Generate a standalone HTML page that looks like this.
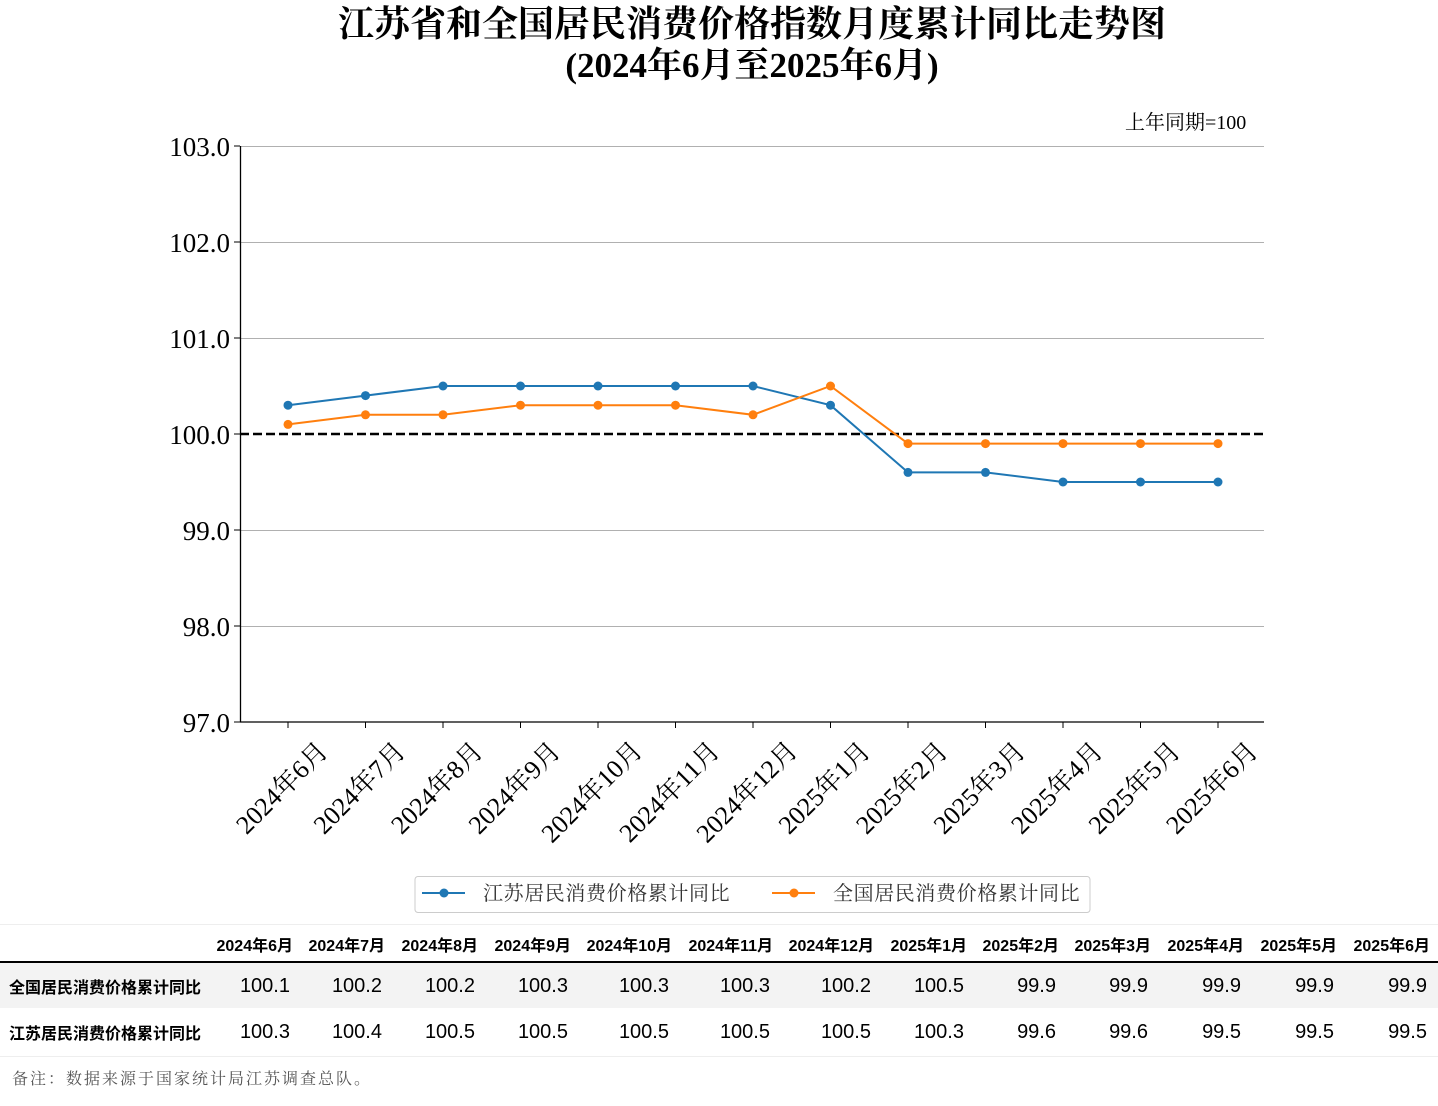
<!DOCTYPE html>
<html><head><meta charset="utf-8"><style>
body{margin:0;width:1438px;height:1106px;background:#fff;position:relative;overflow:hidden;font-family:"Liberation Serif","Noto Serif CJK SC",serif}
.t{position:absolute;white-space:nowrap}
.h{position:absolute;top:932px;font-size:16px;font-weight:bold;font-family:"Liberation Sans","Noto Sans CJK SC",sans-serif;white-space:nowrap}
.v{position:absolute;font-size:20px;font-family:"Liberation Sans","Noto Sans CJK SC",sans-serif;white-space:nowrap}
.a{top:975px}.b{top:1021px}
</style></head><body>
<div class="t" style="left:0;width:1504px;top:4px;text-align:center;font-size:36px;font-weight:bold;line-height:40px">江苏省和全国居民消费价格指数月度累计同比走势图</div>
<div class="t" style="left:0;width:1504px;top:46px;text-align:center;font-size:35px;font-weight:bold;line-height:40px">(2024年6月至2025年6月)</div>
<div class="t" style="left:1125px;top:106px;font-size:20px">上年同期=100</div>
<svg width="1438" height="920" style="position:absolute;left:0;top:0" font-family="Liberation Serif, Noto Serif CJK SC, serif">
<g stroke="#b0b0b0" stroke-width="1">
<line x1="240" x2="1264" y1="146.5" y2="146.5"/><line x1="240" x2="1264" y1="242.5" y2="242.5"/><line x1="240" x2="1264" y1="338.5" y2="338.5"/><line x1="240" x2="1264" y1="530.5" y2="530.5"/><line x1="240" x2="1264" y1="626.5" y2="626.5"/>
</g>
<line x1="240.5" x2="240.5" y1="146" y2="722" stroke="#000" stroke-width="1.3"/>
<line x1="240" x2="1264" y1="722" y2="722" stroke="#000" stroke-width="1.3"/>
<line x1="240" x2="1264" y1="434" y2="434" stroke="#000" stroke-width="2.5" stroke-dasharray="9,4"/>
<g font-size="27" text-anchor="end">
<text x="230" y="156">103.0</text><text x="230" y="252">102.0</text><text x="230" y="348">101.0</text><text x="230" y="444">100.0</text><text x="230" y="540">99.0</text><text x="230" y="636">98.0</text><text x="230" y="732">97.0</text>
</g>
<g stroke="#000" stroke-width="1"><line x1="234" x2="240" y1="146" y2="146"/><line x1="234" x2="240" y1="242" y2="242"/><line x1="234" x2="240" y1="338" y2="338"/><line x1="234" x2="240" y1="434" y2="434"/><line x1="234" x2="240" y1="530" y2="530"/><line x1="234" x2="240" y1="626" y2="626"/><line x1="234" x2="240" y1="722" y2="722"/></g>
<polyline fill="none" stroke="#1f77b4" stroke-width="2" points="288,405.2 365.5,395.6 443,386 520.5,386 598,386 675.5,386 753,386 830.5,405.2 908,472.4 985.5,472.4 1063,482 1140.5,482 1218,482"/>
<polyline fill="none" stroke="#ff7f0e" stroke-width="2" points="288,424.4 365.5,414.8 443,414.8 520.5,405.2 598,405.2 675.5,405.2 753,414.8 830.5,386 908,443.6 985.5,443.6 1063,443.6 1140.5,443.6 1218,443.6"/>
<g fill="#1f77b4"><circle cx="288" cy="405.2" r="4.5"/><circle cx="365.5" cy="395.6" r="4.5"/><circle cx="443" cy="386" r="4.5"/><circle cx="520.5" cy="386" r="4.5"/><circle cx="598" cy="386" r="4.5"/><circle cx="675.5" cy="386" r="4.5"/><circle cx="753" cy="386" r="4.5"/><circle cx="830.5" cy="405.2" r="4.5"/><circle cx="908" cy="472.4" r="4.5"/><circle cx="985.5" cy="472.4" r="4.5"/><circle cx="1063" cy="482" r="4.5"/><circle cx="1140.5" cy="482" r="4.5"/><circle cx="1218" cy="482" r="4.5"/></g>
<g fill="#ff7f0e"><circle cx="288" cy="424.4" r="4.5"/><circle cx="365.5" cy="414.8" r="4.5"/><circle cx="443" cy="414.8" r="4.5"/><circle cx="520.5" cy="405.2" r="4.5"/><circle cx="598" cy="405.2" r="4.5"/><circle cx="675.5" cy="405.2" r="4.5"/><circle cx="753" cy="414.8" r="4.5"/><circle cx="830.5" cy="386" r="4.5"/><circle cx="908" cy="443.6" r="4.5"/><circle cx="985.5" cy="443.6" r="4.5"/><circle cx="1063" cy="443.6" r="4.5"/><circle cx="1140.5" cy="443.6" r="4.5"/><circle cx="1218" cy="443.6" r="4.5"/></g>
<g font-size="26" text-anchor="middle">
<text transform="translate(288,794) rotate(-45)">2024年6月</text>
<text transform="translate(365.5,794) rotate(-45)">2024年7月</text>
<text transform="translate(443,794) rotate(-45)">2024年8月</text>
<text transform="translate(520.5,794) rotate(-45)">2024年9月</text>
<text transform="translate(598,798) rotate(-45)">2024年10月</text>
<text transform="translate(675.5,798) rotate(-45)">2024年11月</text>
<text transform="translate(753,798) rotate(-45)">2024年12月</text>
<text transform="translate(830.5,794) rotate(-45)">2025年1月</text>
<text transform="translate(908,794) rotate(-45)">2025年2月</text>
<text transform="translate(985.5,794) rotate(-45)">2025年3月</text>
<text transform="translate(1063,794) rotate(-45)">2025年4月</text>
<text transform="translate(1140.5,794) rotate(-45)">2025年5月</text>
<text transform="translate(1218,794) rotate(-45)">2025年6月</text>
</g>
<g stroke="#000"><line x1="288" x2="288" y1="722" y2="728"/><line x1="365.5" x2="365.5" y1="722" y2="728"/><line x1="443" x2="443" y1="722" y2="728"/><line x1="520.5" x2="520.5" y1="722" y2="728"/><line x1="598" x2="598" y1="722" y2="728"/><line x1="675.5" x2="675.5" y1="722" y2="728"/><line x1="753" x2="753" y1="722" y2="728"/><line x1="830.5" x2="830.5" y1="722" y2="728"/><line x1="908" x2="908" y1="722" y2="728"/><line x1="985.5" x2="985.5" y1="722" y2="728"/><line x1="1063" x2="1063" y1="722" y2="728"/><line x1="1140.5" x2="1140.5" y1="722" y2="728"/><line x1="1218" x2="1218" y1="722" y2="728"/></g>
<rect x="415" y="876.5" width="675" height="36" rx="3" fill="#fff" stroke="#ccc"/>
<line x1="422" x2="465" y1="893" y2="893" stroke="#1f77b4" stroke-width="2"/><circle cx="444" cy="893" r="4.5" fill="#1f77b4"/>
<line x1="772" x2="815" y1="893" y2="893" stroke="#ff7f0e" stroke-width="2"/><circle cx="794" cy="893" r="4.5" fill="#ff7f0e"/>
<text x="483" y="900" font-size="20" letter-spacing="0.6" fill="#333">江苏居民消费价格累计同比</text>
<text x="833" y="900" font-size="20" letter-spacing="0.6" fill="#333">全国居民消费价格累计同比</text>
</svg>
<div style="position:absolute;left:0;top:924px;width:1438px;height:131px;border-top:1px solid #eee;border-bottom:1px solid #eee"></div>
<div style="position:absolute;left:0;top:961px;width:1438px;height:2px;background:#000"></div>
<div style="position:absolute;left:0;top:963px;width:1438px;height:45px;background:#f3f3f3"></div>
<div class="h" style="left:9px;top:974px;font-size:16px">全国居民消费价格累计同比</div>
<div class="h" style="left:9px;top:1020px;font-size:16px">江苏居民消费价格累计同比</div>
<div class="h" style="right:1145px">2024年6月</div><div class="h" style="right:1053px">2024年7月</div><div class="h" style="right:960px">2024年8月</div><div class="h" style="right:867px">2024年9月</div><div class="h" style="right:766px">2024年10月</div><div class="h" style="right:665px">2024年11月</div><div class="h" style="right:564px">2024年12月</div><div class="h" style="right:471px">2025年1月</div><div class="h" style="right:379px">2025年2月</div><div class="h" style="right:287px">2025年3月</div><div class="h" style="right:194px">2025年4月</div><div class="h" style="right:101px">2025年5月</div><div class="h" style="right:8px">2025年6月</div>
<div class="v a" style="right:1148px">100.1</div><div class="v a" style="right:1056px">100.2</div><div class="v a" style="right:963px">100.2</div><div class="v a" style="right:870px">100.3</div><div class="v a" style="right:769px">100.3</div><div class="v a" style="right:668px">100.3</div><div class="v a" style="right:567px">100.2</div><div class="v a" style="right:474px">100.5</div><div class="v a" style="right:382px">99.9</div><div class="v a" style="right:290px">99.9</div><div class="v a" style="right:197px">99.9</div><div class="v a" style="right:104px">99.9</div><div class="v a" style="right:11px">99.9</div>
<div class="v b" style="right:1148px">100.3</div><div class="v b" style="right:1056px">100.4</div><div class="v b" style="right:963px">100.5</div><div class="v b" style="right:870px">100.5</div><div class="v b" style="right:769px">100.5</div><div class="v b" style="right:668px">100.5</div><div class="v b" style="right:567px">100.5</div><div class="v b" style="right:474px">100.3</div><div class="v b" style="right:382px">99.6</div><div class="v b" style="right:290px">99.6</div><div class="v b" style="right:197px">99.5</div><div class="v b" style="right:104px">99.5</div><div class="v b" style="right:11px">99.5</div>
<div class="t" style="left:12px;top:1066px;font-size:16px;letter-spacing:2px;color:#555">备注：数据来源于国家统计局江苏调查总队。</div>
</body></html>
